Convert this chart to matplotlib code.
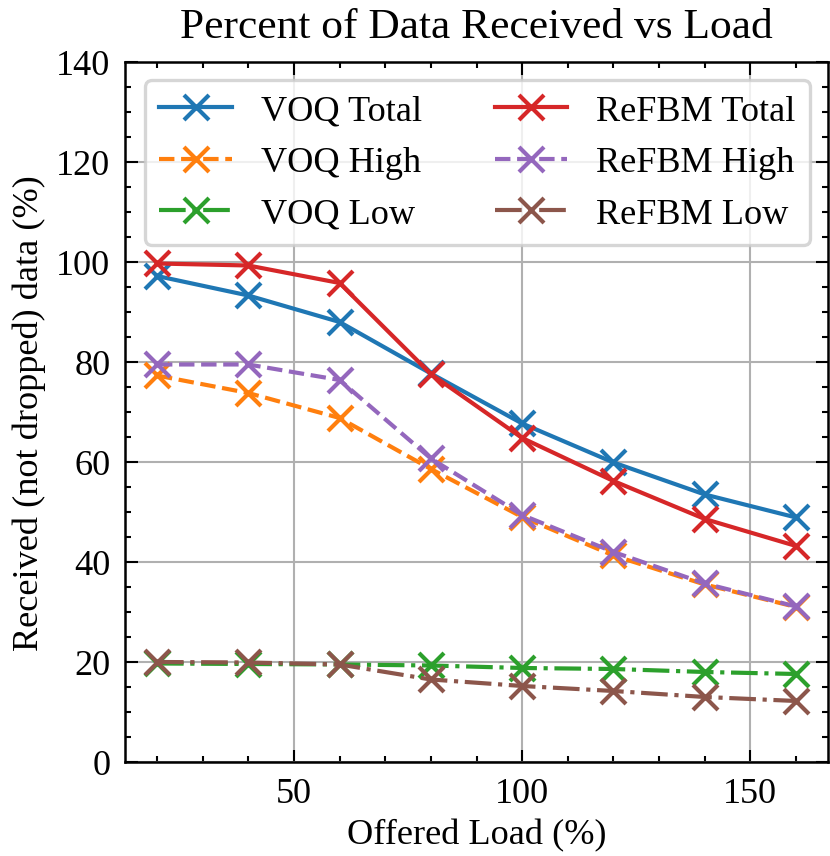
import matplotlib.pyplot as plt
from matplotlib.ticker import AutoMinorLocator

load = [20, 40, 60, 80, 100, 120, 140, 160]

voq_total = [97.2, 93.3, 88.0, 77.7, 67.7, 59.9, 53.5, 48.9]
voq_high = [77.3, 73.8, 68.8, 58.6, 49.0, 41.3, 35.5, 31.0]
voq_low = [19.7, 19.6, 19.5, 19.3, 18.8, 18.6, 18.0, 17.6]

refbm_total = [99.7, 99.3, 95.8, 77.6, 64.8, 56.2, 48.6, 43.2]
refbm_high = [79.5, 79.5, 76.4, 60.7, 49.4, 42.0, 35.7, 31.1]
refbm_low = [20.0, 19.9, 19.5, 16.5, 15.2, 14.2, 13.0, 12.2]

plt.rcParams.update({
    "font.family": ["Liberation Serif", "DejaVu Serif"],
    "font.size": 8.7,
    "axes.linewidth": 0.6,
    "lines.linewidth": 1.0,
    "lines.markersize": 6,
    "lines.markeredgewidth": 1.0,
    "xtick.direction": "in",
    "ytick.direction": "in",
    "xtick.top": True,
    "ytick.right": True,
    "xtick.major.size": 3,
    "ytick.major.size": 3,
    "xtick.minor.size": 1.5,
    "ytick.minor.size": 1.5,
    "xtick.major.width": 0.5,
    "ytick.major.width": 0.5,
    "xtick.minor.width": 0.5,
    "ytick.minor.width": 0.5,
    "xtick.minor.visible": True,
    "ytick.minor.visible": True,
})

fig = plt.figure(figsize=(830 / 300, 857 / 300), dpi=300)
ax = fig.add_axes([0.1506, 0.1097, 0.8470, 0.8168])

ax.plot(load, voq_total, "x-", color="C0", label="VOQ Total")
ax.plot(load, voq_high, "x--", color="C1", label="VOQ High")
ax.plot(load, voq_low, "x-.", color="C2", label="VOQ Low")
ax.plot(load, refbm_total, "x-", color="C3", label="ReFBM Total")
ax.plot(load, refbm_high, "x--", color="C4", label="ReFBM High")
ax.plot(load, refbm_low, "x-.", color="C5", label="ReFBM Low")

ax.set_ylim(0, 140)
ax.set_yticks(range(0, 141, 20))
ax.set_xticks([50, 100, 150])
ax.xaxis.set_minor_locator(AutoMinorLocator(5))
ax.yaxis.set_minor_locator(AutoMinorLocator(4))
ax.grid(True, which="major", color="#b0b0b0", linewidth=0.5)
ax.set_axisbelow(True)

ax.set_title("Percent of Data Received vs Load")
ax.set_xlabel("Offered Load (%)", labelpad=2)
ax.set_ylabel("Received (not dropped) data (%)", labelpad=2.5)
leg = ax.legend(ncol=2, loc="upper right")
leg.get_frame().set_linewidth(0.8)

fig.savefig("out.png", dpi=300)
